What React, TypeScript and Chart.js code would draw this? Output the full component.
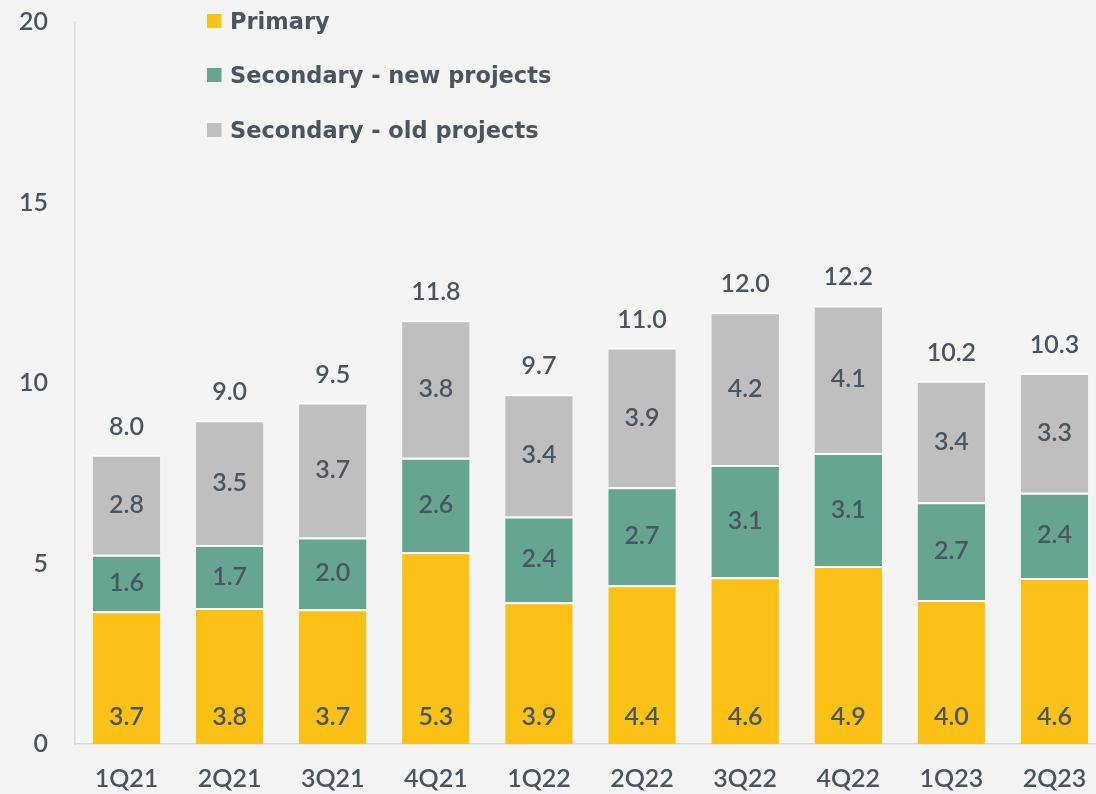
import React, { useEffect, useRef } from "react";
import { Chart, registerables } from "chart.js";

Chart.register(...registerables);

const categories = ["1Q21", "2Q21", "3Q21", "4Q21", "1Q22", "2Q22", "3Q22", "4Q22", "1Q23", "2Q23"];
const primary = [3.68, 3.77, 3.73, 5.31, 3.93, 4.4, 4.62, 4.93, 3.99, 4.6];
const secondaryNew = [1.56, 1.74, 1.99, 2.62, 2.37, 2.71, 3.11, 3.13, 2.71, 2.36];
const secondaryOld = [2.77, 3.46, 3.74, 3.81, 3.39, 3.87, 4.23, 4.09, 3.36, 3.32];
const totals = [8.0, 9.0, 9.5, 11.8, 9.7, 11.0, 12.0, 12.2, 10.2, 10.3];
const seriesNames = ["Primary", "Secondary - new projects", "Secondary - old projects"];
const yTicks = [0, 5, 10, 15, 20];

const TEXT = "#4A5560";
const YELLOW = "#FBC117";
const GREEN = "#66A591";
const GREY = "#BFBFBF";
const AXIS = "#D9D9D9";
const BG = "#F4F4F4";
const FONT = "Lato";
const LEGEND_FONT = "'DejaVu Sans'";
const NUM_WEIGHT = "600";

const labelsPlugin = {
  id: "valueLabels",
  afterDatasetsDraw(chart: any) {
    const ctx = chart.ctx;
    ctx.save();
    ctx.font = `${NUM_WEIGHT} 25px ${FONT}`;
    ctx.fillStyle = TEXT;
    ctx.textAlign = "center";
    ctx.textBaseline = "middle";
    chart.data.datasets.forEach((ds: any, di: number) => {
      const meta = chart.getDatasetMeta(di);
      meta.data.forEach((bar: any, i: number) => {
        const v = ds.data[i] as number;
        const y = di === 0 ? bar.base - 27 : (bar.y + bar.base) / 2;
        ctx.fillText(v.toFixed(1), bar.x, y);
      });
    });
    const last = chart.getDatasetMeta(chart.data.datasets.length - 1);
    last.data.forEach((bar: any, i: number) => {
      ctx.fillText(totals[i].toFixed(1), bar.x, bar.y - 28);
    });
    ctx.restore();
  },
};

const legendPlugin = {
  id: "customLegend",
  afterDraw(chart: any) {
    const ctx = chart.ctx;
    ctx.save();
    const target = 322;
    const longest = seriesNames[1];
    ctx.font = `bold 22px ${LEGEND_FONT}`;
    const w = ctx.measureText(longest).width;
    const size = Math.min(24, Math.max(19, (22 * target) / w));
    ctx.font = `bold ${size.toFixed(1)}px ${LEGEND_FONT}`;
    ctx.textAlign = "left";
    ctx.textBaseline = "middle";
    const rows = [21, 75, 130];
    chart.data.datasets.forEach((ds: any, di: number) => {
      const cy = rows[di];
      ctx.fillStyle = ds.backgroundColor;
      ctx.fillRect(207, cy - 7, 14.5, 14);
      ctx.fillStyle = TEXT;
      ctx.fillText(ds.label, 230, cy + 2);
    });
    ctx.restore();
  },
};

export default function App() {
  const ref = useRef<HTMLCanvasElement | null>(null);

  useEffect(() => {
    if (!ref.current) return;
    const border = { top: 2, right: 0, bottom: 0, left: 0 };
    const chart = new Chart(ref.current, {
      type: "bar",
      data: {
        labels: categories,
        datasets: [
          { label: seriesNames[0], data: primary, backgroundColor: YELLOW, borderColor: "#FFFFFF", borderWidth: border, borderSkipped: false },
          { label: seriesNames[1], data: secondaryNew, backgroundColor: GREEN, borderColor: "#FFFFFF", borderWidth: border, borderSkipped: false },
          { label: seriesNames[2], data: secondaryOld, backgroundColor: GREY, borderColor: "#FFFFFF", borderWidth: border, borderSkipped: false },
        ],
      },
      options: {
        responsive: false,
        maintainAspectRatio: false,
        animation: false,
        devicePixelRatio: 1,
        layout: { padding: { top: 22, right: 4, bottom: 0, left: 0 } },
        datasets: { bar: { categoryPercentage: 1, barPercentage: 0.655 } },
        plugins: { legend: { display: false }, tooltip: { enabled: false } },
        scales: {
          x: {
            stacked: true,
            grid: { display: false, drawTicks: false },
            border: { display: true, color: AXIS, width: 1.5 },
            ticks: { color: TEXT, font: { family: FONT, size: 25, weight: NUM_WEIGHT }, padding: 20, maxRotation: 0 },
            afterFit: (s: any) => { s.height = 50; s.paddingLeft = 0; s.paddingRight = 0; },
          },
          y: {
            stacked: true,
            min: yTicks[0],
            max: yTicks[yTicks.length - 1],
            grid: { display: false, drawTicks: false },
            border: { display: true, color: AXIS, width: 1.5 },
            ticks: { color: TEXT, font: { family: FONT, size: 25, weight: NUM_WEIGHT }, padding: 27, stepSize: 5 },
            afterBuildTicks: (s: any) => { s.ticks = yTicks.map((v) => ({ value: v })); },
            afterFit: (s: any) => { s.width = 75; s.paddingTop = 0; s.paddingBottom = 0; },
          },
        },
      },
      plugins: [labelsPlugin, legendPlugin],
    });
    return () => chart.destroy();
  }, []);

  return (
    <div style={{ position: "fixed", left: 0, top: 0, width: 1096, height: 794, overflow: "hidden", background: BG }}>
      <canvas ref={ref} width={1110} height={794} style={{ display: "block" }} />
    </div>
  );
}
